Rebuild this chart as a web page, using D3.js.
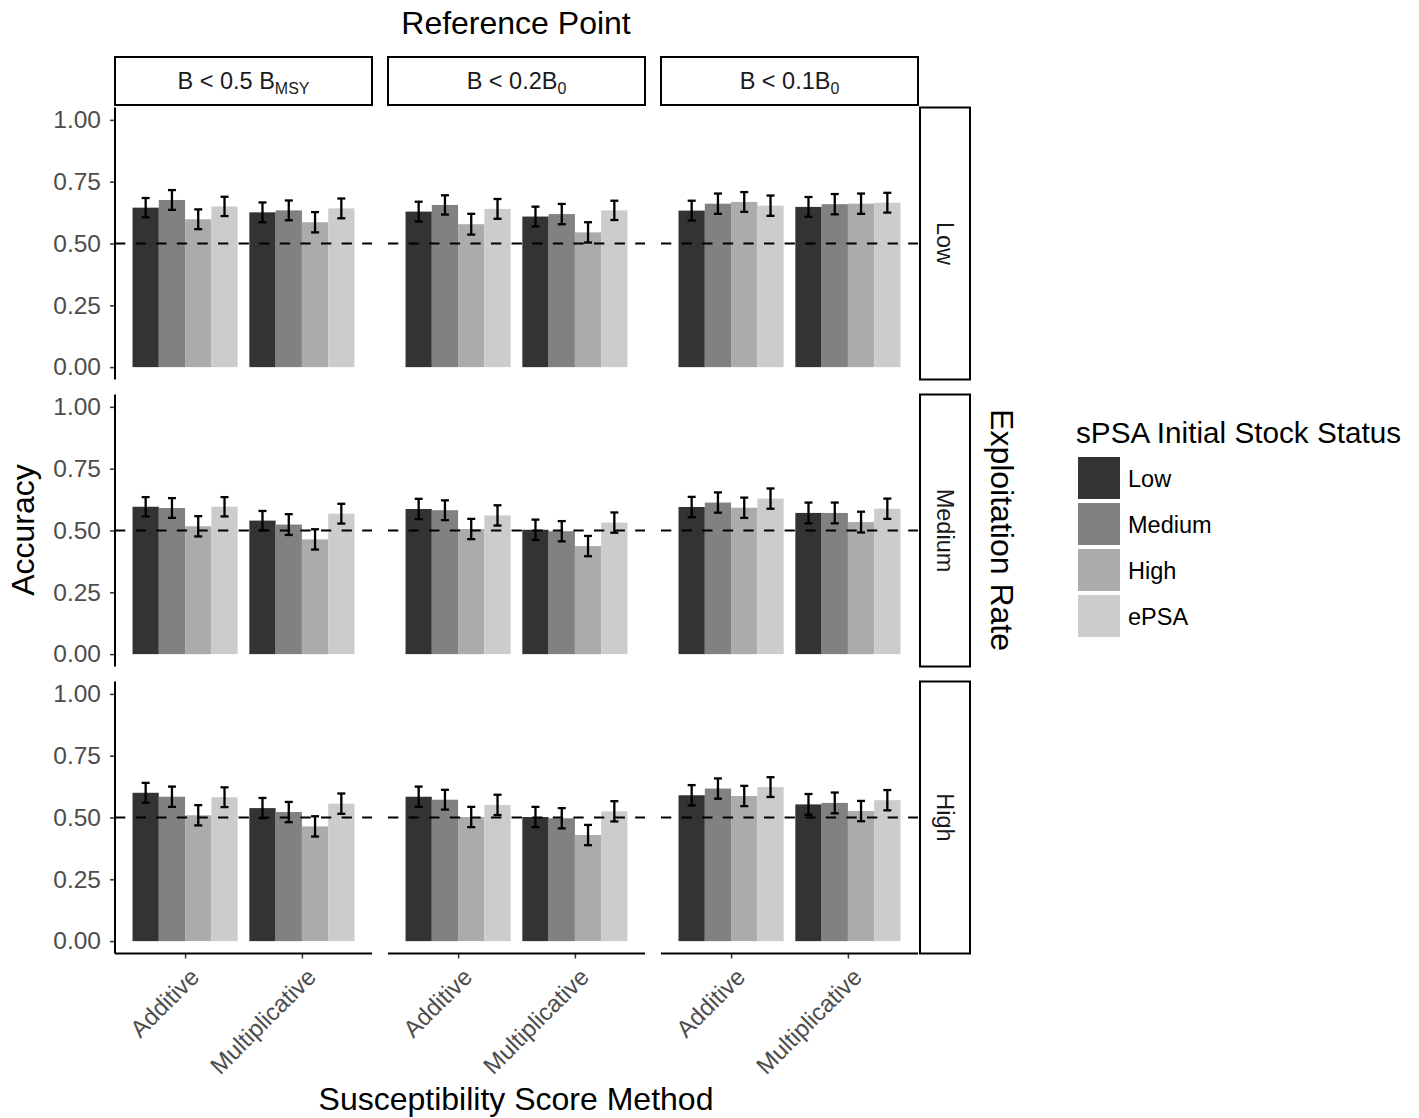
<!DOCTYPE html>
<html><head><meta charset="utf-8">
<script src="https://cdn.jsdelivr.net/npm/d3@7"></script>
<style>body{margin:0;background:#fff}text{font-family:"Liberation Sans",Arial,sans-serif}</style>
</head><body><svg id="chart" width="1419" height="1118"></svg>
<script>
const refMain = ["B < 0.5 B", "B < 0.2B", "B < 0.1B"];
const refSub = ["MSY", "0", "0"];
const exploitRates = ["Low", "Medium", "High"];
const methods = ["Additive", "Multiplicative"];
const statuses = ["Low", "Medium", "High", "ePSA"];
const fillColors = ["#333333", "#818181", "#ABABAB", "#CCCCCC"];
const yTicks = [0, 0.25, 0.5, 0.75, 1];
const yTickLabels = ["0.00", "0.25", "0.50", "0.75", "1.00"];

// values ordered: reference point (3) x method (2) x status (4)
const accExplLow = [
  0.645, 0.676, 0.598, 0.650, 0.626, 0.634, 0.586, 0.642,
  0.629, 0.656, 0.578, 0.640, 0.609, 0.619, 0.545, 0.634,
  0.633, 0.661, 0.668, 0.653, 0.648, 0.659, 0.661, 0.665];
const errExplLow = [
  0.039, 0.040, 0.040, 0.039, 0.040, 0.040, 0.041, 0.040,
  0.040, 0.039, 0.042, 0.040, 0.040, 0.041, 0.041, 0.039,
  0.040, 0.041, 0.040, 0.041, 0.040, 0.041, 0.041, 0.040];
const accExplMedium = [
  0.596, 0.591, 0.517, 0.596, 0.540, 0.524, 0.464, 0.568,
  0.587, 0.582, 0.506, 0.561, 0.503, 0.497, 0.437, 0.532,
  0.595, 0.613, 0.592, 0.629, 0.571, 0.571, 0.534, 0.588];
const errExplMedium = [
  0.039, 0.040, 0.041, 0.039, 0.039, 0.042, 0.041, 0.040,
  0.041, 0.040, 0.041, 0.041, 0.041, 0.041, 0.041, 0.041,
  0.041, 0.041, 0.041, 0.041, 0.042, 0.042, 0.042, 0.041];
const accExplHigh = [
  0.600, 0.584, 0.509, 0.582, 0.538, 0.522, 0.464, 0.556,
  0.584, 0.572, 0.502, 0.551, 0.502, 0.497, 0.429, 0.525,
  0.590, 0.617, 0.587, 0.623, 0.553, 0.559, 0.526, 0.570];
const errExplHigh = [
  0.040, 0.041, 0.041, 0.040, 0.041, 0.041, 0.041, 0.041,
  0.041, 0.040, 0.041, 0.041, 0.041, 0.041, 0.041, 0.041,
  0.041, 0.041, 0.041, 0.040, 0.042, 0.042, 0.041, 0.041];

const accRows = [accExplLow, accExplMedium, accExplHigh];
const errRows = [errExplLow, errExplMedium, errExplHigh];

const FONT = '"Liberation Sans",Arial,sans-serif';
const svg = d3.select("#chart");
const colX = [115, 388, 661];
const rowY = [107.5, 394.5, 681.5];
const pw = 257, ph = 272;

const x = d3.scalePoint().domain(methods).range([0, pw]).padding(0.6);
const step = x.step();
const xs = d3.scaleBand().domain(statuses).range([-0.45 * step, 0.45 * step]);
const y = d3.scaleLinear().domain([-0.05, 1.05]).range([ph, 0]);
const fill = d3.scaleOrdinal().domain(statuses).range(fillColors);

exploitRates.forEach((er, r) => {
  refMain.forEach((rp, c) => {
    const g = svg.append("g").attr("transform", `translate(${colX[c]},${rowY[r]})`);
    const data = [];
    methods.forEach((m, mi) => statuses.forEach((s, si) => {
      const idx = c * 8 + mi * 4 + si;
      data.push({m, s, v: accRows[r][idx], e: errRows[r][idx]});
    }));
    g.selectAll("rect.bar").data(data).enter().append("rect")
      .attr("x", d => x(d.m) + xs(d.s)).attr("width", xs.bandwidth())
      .attr("y", d => y(d.v)).attr("height", d => y(0) - y(d.v))
      .attr("fill", d => fill(d.s));
    g.append("line").attr("x1", 0).attr("x2", pw).attr("y1", y(0.5)).attr("y2", y(0.5))
      .attr("stroke", "#000").attr("stroke-width", 2).attr("stroke-dasharray", "10.3,10.3");
    const eb = g.selectAll("g.eb").data(data).enter().append("g")
      .attr("transform", d => `translate(${x(d.m) + xs(d.s) + xs.bandwidth() / 2},0)`)
      .attr("stroke", "#000").attr("stroke-width", 2.3);
    eb.append("line").attr("x1", 0).attr("x2", 0).attr("y1", d => y(d.v + d.e)).attr("y2", d => y(d.v - d.e));
    eb.append("line").attr("x1", -4).attr("x2", 4).attr("y1", d => y(d.v + d.e)).attr("y2", d => y(d.v + d.e));
    eb.append("line").attr("x1", -4).attr("x2", 4).attr("y1", d => y(d.v - d.e)).attr("y2", d => y(d.v - d.e));

    if (c === 0) {
      const ax = g.append("g").call(d3.axisLeft(y).tickValues(yTicks)
        .tickFormat((d, i) => yTickLabels[i]).tickSizeOuter(0).tickSize(5).tickPadding(9));
      ax.select(".domain").remove();
      ax.selectAll(".tick line").attr("stroke", "#333").attr("stroke-width", 1.5);
      ax.selectAll(".tick text").attr("fill", "#4d4d4d").style("font-size", "24.5px")
        .style("font-family", FONT);
      g.append("line").attr("x1", 0).attr("x2", 0).attr("y1", 0).attr("y2", ph)
        .attr("stroke", "#000").attr("stroke-width", 2);
    }
    if (r === 2) {
      const ax = g.append("g").attr("transform", `translate(0,${ph})`)
        .call(d3.axisBottom(x).tickSize(5).tickSizeOuter(0));
      ax.select(".domain").remove();
      ax.selectAll(".tick line").attr("stroke", "#333").attr("stroke-width", 1.5);
      ax.selectAll(".tick text").remove();
      ax.selectAll(".tick").append("text")
        .attr("transform", "translate(15,25) rotate(-45)")
        .attr("text-anchor", "end").attr("fill", "#4d4d4d")
        .style("font-size", "24px").style("font-family", FONT)
        .text(d => d);
      g.append("line").attr("x1", 0).attr("x2", pw).attr("y1", ph).attr("y2", ph)
        .attr("stroke", "#000").attr("stroke-width", 2);
    }
  });
});

// top strips
refMain.forEach((rp, c) => {
  svg.append("rect").attr("x", colX[c]).attr("y", 57).attr("width", pw).attr("height", 48)
    .attr("fill", "#fff").attr("stroke", "#000").attr("stroke-width", 2);
  const t = svg.append("text").attr("x", colX[c] + pw / 2).attr("y", 89)
    .attr("text-anchor", "middle").attr("fill", "#1a1a1a").style("font-size", "23.5px");
  t.append("tspan").text(rp);
  t.append("tspan").attr("dy", 5).style("font-size", "16px").text(refSub[c]);
});
// right strips
exploitRates.forEach((er, r) => {
  svg.append("rect").attr("x", 920).attr("y", rowY[r]).attr("width", 50).attr("height", ph)
    .attr("fill", "#fff").attr("stroke", "#000").attr("stroke-width", 2);
  svg.append("text").attr("transform", `translate(945,${rowY[r] + ph / 2}) rotate(90)`)
    .attr("text-anchor", "middle").attr("dy", "0.35em").attr("fill", "#1a1a1a")
    .style("font-size", "23.5px").text(er);
});

// titles
svg.append("text").attr("x", 516).attr("y", 34).attr("text-anchor", "middle")
  .style("font-size", "32px").text("Reference Point");
svg.append("text").attr("x", 516).attr("y", 1110).attr("text-anchor", "middle")
  .style("font-size", "32px").text("Susceptibility Score Method");
svg.append("text").attr("transform", "translate(34,530) rotate(-90)").attr("text-anchor", "middle")
  .style("font-size", "32px").text("Accuracy");
svg.append("text").attr("transform", "translate(991,530) rotate(90)").attr("text-anchor", "middle")
  .style("font-size", "32px").text("Exploitation Rate");

// legend
const lg = svg.append("g").attr("transform", "translate(1076,0)");
lg.append("text").attr("x", 0).attr("y", 443).style("font-size", "29.7px").text("sPSA Initial Stock Status");
statuses.forEach((s, i) => {
  lg.append("rect").attr("x", 2).attr("y", 457 + i * 46).attr("width", 42).attr("height", 42)
    .attr("fill", fill(s));
  lg.append("text").attr("x", 52).attr("y", 478 + i * 46 + 8.5).style("font-size", "23.5px").text(s);
});
</script></body></html>
